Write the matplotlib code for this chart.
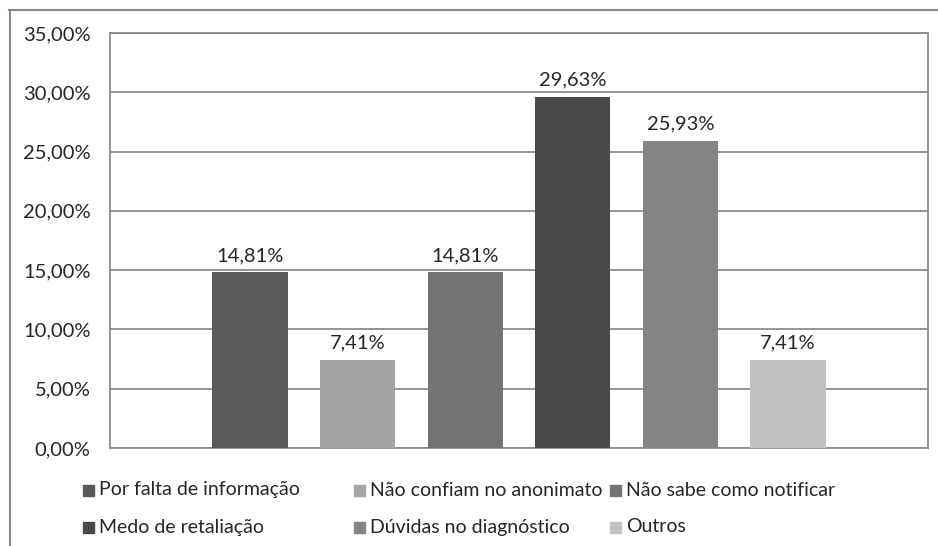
import matplotlib
matplotlib.use("Agg")
import matplotlib.pyplot as plt
from matplotlib.patches import Rectangle
from matplotlib.lines import Line2D
from matplotlib.ticker import MultipleLocator, FuncFormatter

categories = [
    "Por falta de informação",
    "Não confiam no anonimato",
    "Não sabe como notificar",
    "Medo de retaliação",
    "Dúvidas no diagnóstico",
    "Outros",
]
values = [14.81, 7.41, 14.81, 29.63, 25.93, 7.41]
colors = ["#595959", "#a5a5a5", "#737373", "#494949", "#848484", "#c0c0c0"]

W, H = 938, 546
plt.rcParams["font.family"] = ["Lato", "DejaVu Sans"]

fig = plt.figure(figsize=(W / 100, H / 100), dpi=100)

def fx(px):
    return px / W

def fy(py):
    return 1 - py / H

# outer chart frame (left and top edges)
fig.add_artist(Line2D([fx(9.5), fx(9.5)], [fy(10), 0], color="#8a8a8a", lw=1.5,
                      transform=fig.transFigure))
fig.add_artist(Line2D([fx(9), 1], [fy(10), fy(10)], color="#8a8a8a", lw=1.5,
                      transform=fig.transFigure))

ax = fig.add_axes([fx(110), fy(448), fx(928) - fx(110), fy(33) - fy(448)])

positions = list(range(len(values)))
bars = ax.bar(positions, values, width=0.7, color=colors, zorder=3)
for b, v in zip(bars, values):
    ax.annotate(f"{v:.2f}".replace(".", ",") + "%",
                (b.get_x() + b.get_width() / 2, v), xytext=(0, 6),
                textcoords="offset points", ha="center", va="bottom",
                fontsize=14.5, color="#262626")

ax.set_xlim(-1.3, 6.3)
ax.set_ylim(0, 35)
ax.yaxis.set_major_locator(MultipleLocator(5))
ax.yaxis.set_major_formatter(FuncFormatter(lambda v, p: f"{v:.2f}".replace(".", ",") + "%"))
ax.set_xticks([])
ax.tick_params(axis="y", length=0, pad=14, labelsize=14.5, labelcolor="#262626")
ax.grid(axis="y", color="#8c8c8c", lw=1.3, zorder=0)
for s in ax.spines.values():
    s.set_color("#8c8c8c")
    s.set_linewidth(1.3)

# legend laid out in two rows of three
col_x = [83, 354, 610]
row_y = [490, 527]
for i, (name, c) in enumerate(zip(categories, colors)):
    r, k = divmod(i, 3)
    x0, y0 = col_x[k], row_y[r]
    fig.add_artist(Rectangle((fx(x0), fy(y0 + 5.5)), fx(11), 11 / H, color=c,
                             transform=fig.transFigure))
    fig.text(fx(x0 + 16), fy(y0), name, ha="left", va="center", fontsize=14,
             color="#262626")

fig.savefig("out.png", dpi=100, facecolor="white")
